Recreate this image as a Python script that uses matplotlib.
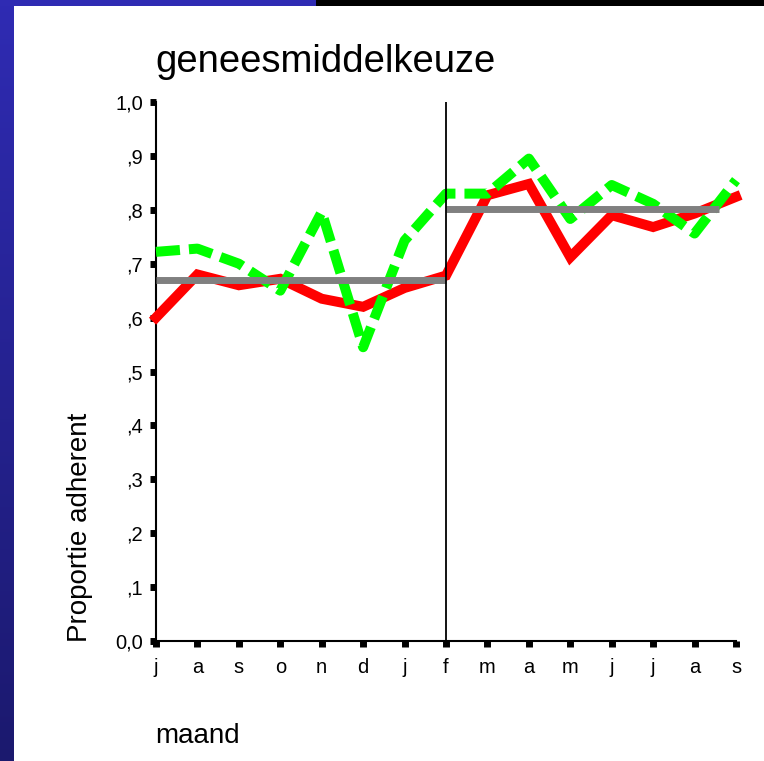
import matplotlib
matplotlib.use("Agg")
import matplotlib.pyplot as plt
import numpy as np
from matplotlib.patches import Rectangle
from matplotlib.colors import LinearSegmentedColormap

months = ["j", "a", "s", "o", "n", "d", "j", "f", "m", "a", "m", "j", "j", "a", "s"]
red_values = [0.60, 0.68, 0.66, 0.672, 0.635, 0.62, 0.655, 0.678, 0.827, 0.848, 0.712, 0.79, 0.768, 0.793, 0.824]
green_values = [0.722, 0.728, 0.70, 0.65, 0.796, 0.545, 0.743, 0.83, 0.83, 0.895, 0.783, 0.846, 0.811, 0.756, 0.855]
mean_before = 0.669
mean_after = 0.802
mean_before_span = [0, 7]
mean_after_span = [7, 13.6]
break_month = 7
yticks = [0.0, 0.1, 0.2, 0.3, 0.4, 0.5, 0.6, 0.7, 0.8, 0.9, 1.0]
ytick_labels = ["0,0", ",1", ",2", ",3", ",4", ",5", ",6", ",7", ",8", ",9", "1,0"]

plt.rcParams['font.family'] = ['Liberation Sans', 'DejaVu Sans']

W, H = 764, 761
fig = plt.figure(figsize=(W / 100, H / 100), dpi=100)
fig.patch.set_facecolor("white")

# decorative slide frame
bg = fig.add_axes([0, 0, 1, 1], zorder=-5)
bg.axis("off")
grad = np.linspace(0, 1, 256).reshape(-1, 1)
cmap = LinearSegmentedColormap.from_list("slide", ["#2F2BB3", "#1B196E"])
bg.imshow(grad, cmap=cmap, extent=[0, 14, H, 0], aspect="auto")
bg.add_patch(Rectangle((0, 0), 316, 6, color="#2F2BB3", lw=0))
bg.add_patch(Rectangle((316, 0), W - 316, 6, color="black", lw=0))
bg.set_xlim(0, W)
bg.set_ylim(H, 0)

ax = fig.add_axes([156 / W, (H - 641) / H, 580 / W, 539 / H])
x = np.arange(len(months))

ax.plot(x, red_values, color="#FF0000", lw=7.2, solid_joinstyle="miter", zorder=3, clip_on=False)
ax.plot(x, green_values, color="#00FF00", lw=7.2, dashes=(2.4, 0.9), dash_capstyle="butt", zorder=4, clip_on=False)
ax.hlines(mean_before, mean_before_span[0], mean_before_span[1], color="#808080", lw=5, zorder=5)
ax.hlines(mean_after, mean_after_span[0], mean_after_span[1], color="#808080", lw=5, zorder=5)
ax.axvline(break_month, color="black", lw=1.3, zorder=6)

ax.set_xlim(0, len(months) - 1)
ax.set_ylim(0, 1)
ax.set_xticks(x)
ax.set_xticklabels(months, fontsize=14.5)
ax.set_yticks(yticks)
ax.set_yticklabels(ytick_labels, fontsize=14.5)
ax.tick_params(axis="both", direction="out", length=4.3, width=5, color="black")
ax.tick_params(axis="y", pad=5)
ax.tick_params(axis="x", pad=8)
for s in ["top", "right"]:
    ax.spines[s].set_visible(False)
for s in ["left", "bottom"]:
    ax.spines[s].set_linewidth(1.5)
ax.patch.set_alpha(0)

fig.text(155 / W, 1 - 62 / H, "geneesmiddelkeuze", fontsize=27.5, ha="left", va="center")
fig.text(80 / W, 1 - 527 / H, "Proportie adherent", fontsize=20, rotation=90, ha="center", va="center")
fig.text(155 / W, 1 - 736 / H, "maand", fontsize=20, ha="left", va="center")

fig.savefig("out.png", dpi=100)
